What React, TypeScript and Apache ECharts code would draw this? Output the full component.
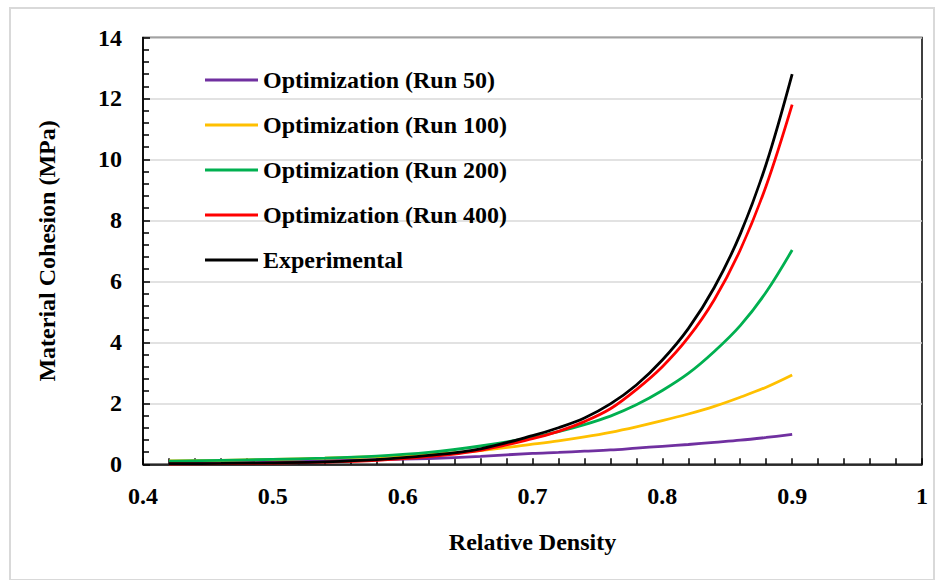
import React, { useEffect, useRef } from "react";
import * as echarts from "echarts";

const density = [0.42, 0.46, 0.5, 0.54, 0.58, 0.62, 0.66, 0.7, 0.72, 0.74, 0.76, 0.78, 0.8, 0.82, 0.84, 0.86, 0.88, 0.9];
const run50 = [0.07, 0.08, 0.1, 0.12, 0.15, 0.19, 0.26, 0.36, 0.39, 0.43, 0.47, 0.53, 0.59, 0.65, 0.72, 0.79, 0.88, 0.98];
const run100 = [0.11, 0.13, 0.16, 0.2, 0.25, 0.32, 0.45, 0.66, 0.77, 0.9, 1.05, 1.23, 1.43, 1.65, 1.9, 2.2, 2.53, 2.93];
const run200 = [0.1, 0.13, 0.16, 0.2, 0.27, 0.39, 0.6, 0.88, 1.07, 1.3, 1.58, 1.95, 2.42, 2.98, 3.7, 4.55, 5.65, 7.03];
const run400 = [0.01, 0.02, 0.04, 0.07, 0.13, 0.25, 0.46, 0.84, 1.08, 1.4, 1.82, 2.45, 3.2, 4.16, 5.4, 7.03, 9.14, 11.8];
const experimental = [0.02, 0.03, 0.05, 0.08, 0.15, 0.29, 0.51, 0.94, 1.2, 1.52, 1.98, 2.6, 3.42, 4.45, 5.8, 7.55, 9.85, 12.8];

const seriesNames = [
  "Optimization (Run 50)",
  "Optimization (Run 100)",
  "Optimization (Run 200)",
  "Optimization (Run 400)",
  "Experimental",
];
const seriesValues = [run50, run100, run200, run400, experimental];
const seriesColors = ["#7030A0", "#FFC000", "#00B050", "#FF0000", "#000000"];

const FONT = "'Liberation Serif', 'Times New Roman', serif";

export default function App() {
  const ref = useRef<HTMLDivElement>(null);
  useEffect(() => {
    if (!ref.current) return;
    const chart = echarts.init(ref.current, null, { renderer: "svg" });
    chart.setOption({
      animation: false,
      backgroundColor: "#ffffff",
      graphic: [
        {
          type: "rect",
          shape: { x: 10, y: 8, width: 924, height: 572 },
          style: { fill: "none", stroke: "#d9d9d9", lineWidth: 2 },
          silent: true,
        },
      ],
      grid: {
        left: 143,
        right: 18,
        top: 37.5,
        bottom: 115.7,
        show: true,
        borderColor: "#000",
        borderWidth: 1.5,
        containLabel: false,
      },
      legend: {
        orient: "vertical",
        left: 205,
        top: 68,
        padding: 0,
        icon: "rect",
        itemWidth: 53,
        itemHeight: 3,
        itemGap: 21,
        data: seriesNames,
        textStyle: {
          fontFamily: FONT,
          fontWeight: "bold",
          fontSize: 24,
          lineHeight: 24,
          color: "#000",
        },
      },
      xAxis: {
        type: "value",
        min: 0.4,
        max: 1,
        interval: 0.1,
        name: "Relative Density",
        nameLocation: "middle",
        nameGap: 66,
        nameTextStyle: { fontFamily: FONT, fontWeight: "bold", fontSize: 24, color: "#000" },
        axisLine: { show: true, lineStyle: { color: "#000", width: 1.5 } },
        axisTick: { show: true, inside: true, length: 6, lineStyle: { color: "#000", width: 1.5 } },
        minorTick: { show: true, splitNumber: 5, length: 6, lineStyle: { color: "#000", width: 1.5 } },
        splitLine: { show: false },
        axisLabel: {
          fontFamily: FONT,
          fontWeight: "bold",
          fontSize: 24,
          color: "#000",
          margin: 20,
          formatter: (v: number) => String(Math.round(v * 10) / 10),
        },
      },
      yAxis: {
        type: "value",
        min: 0,
        max: 14,
        interval: 2,
        name: "Material Cohesion (MPa)",
        nameLocation: "middle",
        nameGap: 84,
        nameTextStyle: { fontFamily: FONT, fontWeight: "bold", fontSize: 24, color: "#000" },
        axisLine: { show: true, lineStyle: { color: "#000", width: 1.5 } },
        axisTick: { show: true, inside: true, length: 7, lineStyle: { color: "#000", width: 1.5 } },
        minorTick: { show: true, splitNumber: 5, length: 6, lineStyle: { color: "#000", width: 1.5 } },
        splitLine: { show: true, lineStyle: { color: "#d9d9d9", width: 1.5 } },
        axisLabel: {
          fontFamily: FONT,
          fontWeight: "bold",
          fontSize: 24,
          color: "#000",
          margin: 21,
        },
      },
      series: seriesNames.map((name, i) => ({
        name,
        type: "line",
        smooth: 0.35,
        symbol: "none",
        showSymbol: false,
        color: seriesColors[i],
        lineStyle: { color: seriesColors[i], width: 2.8 },
        data: density.map((d, j) => [d, seriesValues[i][j]]),
      })),
    });
    return () => chart.dispose();
  }, []);
  return (
    <div
      ref={ref}
      style={{ position: "fixed", left: 0, top: 0, width: 940, height: 580 }}
    />
  );
}
